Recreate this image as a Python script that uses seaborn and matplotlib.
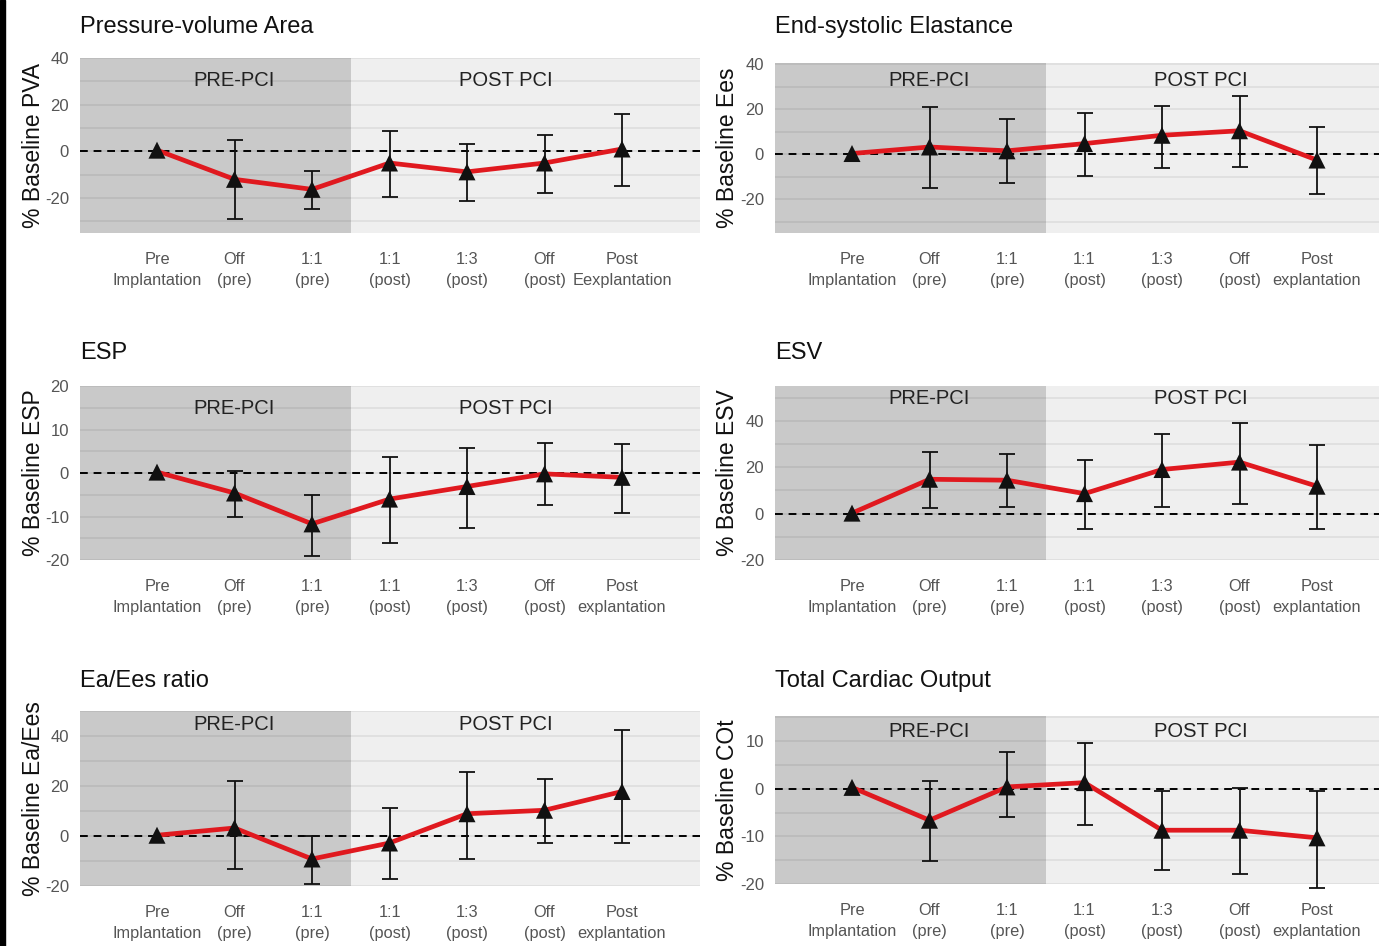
import numpy as np
import pandas as pd
import seaborn as sns
import matplotlib.pyplot as plt
from matplotlib.ticker import MultipleLocator
from matplotlib.patches import Rectangle

# 数据
conditions = ["Pre\nImplantation", "Off\n(pre)", "1:1\n(pre)", "1:1\n(post)",
              "1:3\n(post)", "Off\n(post)", "Post\nexplantation"]
conditions_pva = conditions[:-1] + ["Post\nEexplantation"]

titles = ["Pressure-volume Area", "End-systolic Elastance", "ESP", "ESV",
          "Ea/Ees ratio", "Total Cardiac Output"]
ylabels = ["% Baseline PVA", "% Baseline Ees", "% Baseline ESP", "% Baseline ESV",
           "% Baseline Ea/Ees", "% Baseline COt"]

pva_mean = [0.5, -12, -16.3, -5, -8.8, -5, 1]
pva_low = [np.nan, -29, -24.9, -19.7, -21.3, -18, -14.8]
pva_high = [np.nan, 5, -8.3, 8.7, 3.2, 7, 16.2]

ees_mean = [0.3, 3.2, 1.5, 4.7, 8.4, 10.4, -2.6]
ees_low = [np.nan, -15.2, -12.8, -9.7, -6.2, -5.6, -17.7]
ees_high = [np.nan, 20.8, 15.5, 18.1, 21.2, 25.7, 11.9]

esp_mean = [0.2, -4.6, -11.7, -6, -3.1, -0.2, -1]
esp_low = [np.nan, -10.2, -19, -16.1, -12.6, -7.3, -9.1]
esp_high = [np.nan, 0.4, -5, 3.7, 5.7, 6.9, 6.6]

esv_mean = [0.2, 14.8, 14.4, 8.6, 19, 22.2, 11.8]
esv_low = [np.nan, 2.6, 2.9, -6.7, 2.9, 4.2, -6.6]
esv_high = [np.nan, 26.6, 25.6, 23, 34.2, 39.2, 29.7]

ratio_mean = [0.3, 3.2, -9.2, -2.8, 8.9, 10.3, 17.8]
ratio_low = [np.nan, -13.2, -19, -17.1, -9.1, -2.9, -2.9]
ratio_high = [np.nan, 21.9, -0.1, 11.3, 25.7, 22.8, 42.5]

cot_mean = [0.3, -6.6, 0.4, 1.3, -8.7, -8.7, -10.3]
cot_low = [np.nan, -15.2, -6, -7.6, -17.1, -17.9, -20.8]
cot_high = [np.nan, 1.6, 7.7, 9.6, -0.5, 0.1, -0.4]

means = [pva_mean, ees_mean, esp_mean, esv_mean, ratio_mean, cot_mean]
lows = [pva_low, ees_low, esp_low, esv_low, ratio_low, cot_low]
highs = [pva_high, ees_high, esp_high, esv_high, ratio_high, cot_high]
xlabels = [conditions_pva, conditions, conditions, conditions, conditions, conditions]

# 版式参数
ylims = [(-35, 40), (-35, 40.5), (-20, 20), (-20, 55), (-20, 50), (-20, 15.3)]
ysteps = [20, 20, 10, 20, 20, 10]
phase_y = [0.87, 0.9, 0.873, 0.93, 0.925, 0.905]
W, H = 1379, 946
# (left, top, right, bottom) in pixels
boxes = [(80, 58, 700, 233), (775, 63, 1379, 233),
         (80, 386, 700, 560), (775, 386, 1379, 560),
         (80, 711, 700, 886), (775, 716, 1379, 884)]
title_y = [27, 27, 353, 353, 681, 681]

sns.set_theme(style="white")
plt.rcParams["font.family"] = ["Liberation Sans Narrow", "Liberation Sans", "DejaVu Sans"]
plt.rcParams["axes.unicode_minus"] = False

fig = plt.figure(figsize=(W / 100, H / 100), dpi=100)
fig.patch.set_facecolor("white")
fig.add_artist(Rectangle((0, 0), 5 / W, 1, transform=fig.transFigure,
                         color="black", zorder=10))

red = "#e0191f"
for i in range(6):
    l, t, r, b = boxes[i]
    ax = fig.add_axes([l / W, 1 - b / H, (r - l) / W, (b - t) / H])
    x0 = (l - 157 if l < 700 else l - 852) / 77.5
    x1 = (r - 157 if l < 700 else r - 852) / 77.5
    ax.set_xlim(x0, x1)
    ax.set_ylim(*ylims[i])

    ax.axvspan(x0, 2.5, color="#c9c9c9", zorder=0, lw=0)
    ax.axvspan(2.5, x1, color="#efefef", zorder=0, lw=0)
    ax.yaxis.set_major_locator(MultipleLocator(ysteps[i]))
    ax.yaxis.set_minor_locator(MultipleLocator(ysteps[i] / 2))
    ax.grid(True, which="both", axis="y", color="black", alpha=0.07, lw=1.3)
    ax.grid(False, axis="x")
    ax.set_axisbelow(True)

    ax.axhline(0, color="black", ls=(0, (4, 3)), lw=1.4, zorder=2)

    df = pd.DataFrame({"pos": np.arange(7), "mean": means[i],
                       "low": lows[i], "high": highs[i]})
    yerr = np.vstack([df["mean"] - df["low"], df["high"] - df["mean"]])
    eb = ax.errorbar(df["pos"], df["mean"], yerr=yerr, fmt="none", ecolor="#111111",
                     elinewidth=1.3, capsize=5.8, capthick=1.3, zorder=3)
    for art in eb.lines[1] + eb.lines[2]:
        art.set_clip_on(False)
    sns.lineplot(data=df, x="pos", y="mean", color=red, lw=3.4, ax=ax,
                 zorder=4, legend=False)
    sns.scatterplot(data=df, x="pos", y="mean", marker="^", s=150, color="#111111",
                    edgecolor="none", ax=ax, zorder=5, legend=False)

    ax.text(1, phase_y[i], "PRE-PCI", transform=ax.get_xaxis_transform(),
            ha="center", va="center", fontsize=14.5, color="#222222")
    ax.text(4.5, phase_y[i], "POST PCI", transform=ax.get_xaxis_transform(),
            ha="center", va="center", fontsize=14.5, color="#222222")

    ax.set_xticks(range(7))
    ax.set_xticklabels(xlabels[i], fontsize=11.8, color="#555555", linespacing=1.45)
    ax.tick_params(axis="x", length=0, pad=14)
    ax.tick_params(axis="y", which="both", length=0, pad=8, labelsize=12,
                   labelcolor="#555555")
    ax.set_xlabel("")
    ax.set_ylabel(ylabels[i], fontsize=16.5, color="#111111",
                  family=["Liberation Sans", "DejaVu Sans"])
    ax.yaxis.set_label_coords((45 - 80) / 620 if l < 700 else (739 - 775) / 604, 0.5)
    for s in ax.spines.values():
        s.set_visible(False)

    fig.text(l / W, 1 - title_y[i] / H, titles[i], ha="left", va="center",
             fontsize=17, color="#111111")

plt.savefig("out.png", dpi=100)
